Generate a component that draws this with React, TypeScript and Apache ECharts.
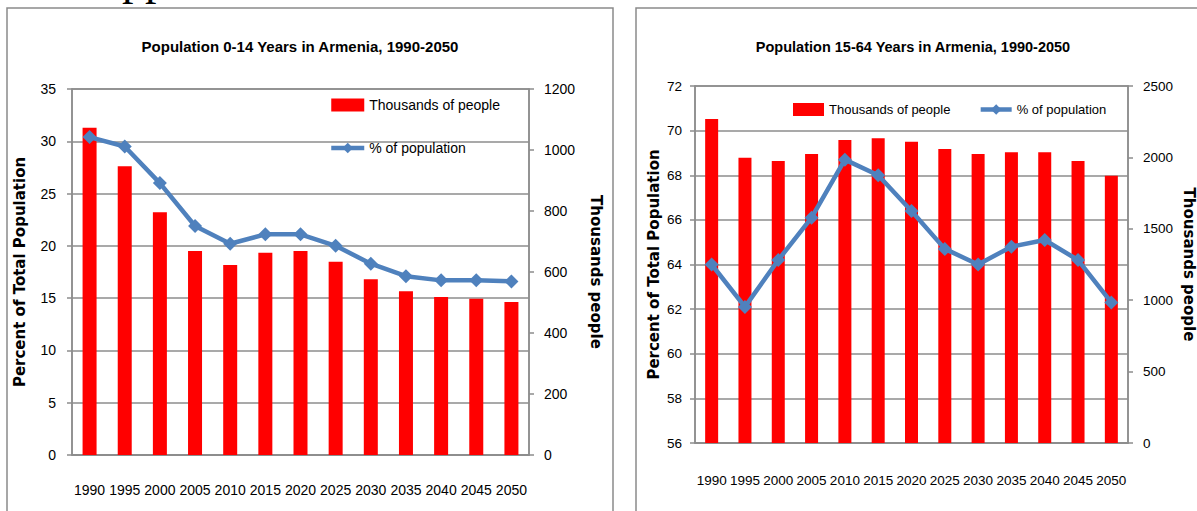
import React, { useEffect, useRef } from "react";
import * as echarts from "echarts";

const years = ["1990", "1995", "2000", "2005", "2010", "2015", "2020", "2025", "2030", "2035", "2040", "2045", "2050"];

// Population 0-14
const youngThousands = [1073, 947, 796, 669, 623, 663, 669, 634, 576, 537, 518, 512, 502];
const youngPct = [30.4, 29.5, 26.0, 21.9, 20.2, 21.1, 21.1, 20.0, 18.3, 17.1, 16.7, 16.7, 16.6];

// Population 15-64
const workingThousands = [2269, 1998, 1975, 2024, 2122, 2134, 2110, 2059, 2024, 2036, 2036, 1975, 1872];
const workingPct = [64.0, 62.1, 64.2, 66.1, 68.7, 68.0, 66.4, 64.7, 64.0, 64.8, 65.1, 64.2, 62.3];

const titles = [
  "Population 0-14 Years in Armenia, 1990-2050",
  "Population 15-64 Years in Armenia, 1990-2050",
];
const barName = "Thousands of people";
const lineName = "% of population";
const leftAxisName = "Percent of Total Population";
const rightAxisName = "Thousands people";

const NARROW = '"Liberation Sans", Arial, sans-serif';
const WIDE = '"DejaVu Sans", Verdana, sans-serif';
const GRID_C = "#8c8c8c";
const BLUE = "#4f81bd";
const RED = "#ff0000";

export default function App() {
  const ref = useRef<HTMLDivElement>(null);
  useEffect(() => {
    if (!ref.current) return;
    const chart = echarts.init(ref.current, null, { renderer: "svg" });
    const axisLine = { show: true, lineStyle: { color: GRID_C, width: 1.5 } };
    const tick = { show: true, length: 5, lineStyle: { color: GRID_C, width: 1.5 } };
    const nameStyle = { fontFamily: WIDE, fontWeight: "bold", fontSize: 15, color: "#000" };
    const plain = (v: number | string) => String(v);
    const mkX = (gi: number, fs: number, margin: number) => ({
      type: "category",
      gridIndex: gi,
      data: years,
      axisLine,
      axisTick: { show: false },
      axisLabel: { color: "#000", fontSize: fs, fontFamily: NARROW, margin, interval: 0 },
    });
    const mkY = (
      gi: number,
      pos: string,
      min: number,
      max: number,
      interval: number,
      name: string,
      nameGap: number,
      fs: number,
      margin: number,
      split: boolean
    ) => ({
      type: "value",
      gridIndex: gi,
      position: pos,
      min,
      max,
      interval,
      name,
      nameLocation: "middle",
      nameGap,
      nameRotate: pos === "right" ? -90 : 90,
      nameTextStyle: nameStyle,
      axisLine,
      axisTick: tick,
      axisLabel: { color: "#000", fontSize: fs, fontFamily: NARROW, margin, formatter: plain },
      splitLine: { show: split, lineStyle: { color: GRID_C, width: 1.5 } },
    });
    const legendData = [{ name: barName, icon: "rect" }, { name: lineName }];
    const option: any = {
      animation: false,
      backgroundColor: "#ffffff",
      textStyle: { fontFamily: NARROW },
      grid: [
        { left: 72, top: 89, width: 457, height: 366, show: true, borderColor: GRID_C, borderWidth: 1.5 },
        { left: 695, top: 86, width: 435, height: 357, show: true, borderColor: GRID_C, borderWidth: 1.5 },
      ],
      xAxis: [mkX(0, 14, 28), mkX(1, 13.5, 30)],
      yAxis: [
        mkY(0, "left", 0, 35, 5, leftAxisName, 45, 14, 16, true),
        mkY(0, "right", 0, 1200, 200, rightAxisName, 59, 14, 15, false),
        mkY(1, "left", 56, 72, 2, leftAxisName, 34, 13.5, 13, true),
        mkY(1, "right", 0, 2500, 500, rightAxisName, 53, 13.5, 15, false),
      ],
      legend: [
        {
          orient: "vertical",
          left: 329,
          top: 98,
          padding: 0,
          itemWidth: 33,
          itemHeight: 13,
          itemGap: 29,
          data: legendData,
          lineStyle: { width: 4.5, color: BLUE },
          textStyle: { fontSize: 14, color: "#000", fontFamily: NARROW },
        },
        {
          orient: "horizontal",
          left: 793,
          top: 103,
          padding: 0,
          itemWidth: 31,
          itemHeight: 13,
          itemGap: 28,
          data: legendData,
          lineStyle: { width: 4.5, color: BLUE },
          textStyle: { fontSize: 13, color: "#000", fontFamily: NARROW },
        },
      ],
      series: [
        {
          type: "bar",
          name: barName,
          xAxisIndex: 0,
          yAxisIndex: 1,
          data: youngThousands,
          barWidth: 14,
          itemStyle: { color: RED },
        },
        {
          type: "line",
          name: lineName,
          xAxisIndex: 0,
          yAxisIndex: 0,
          data: youngPct,
          symbol: "diamond",
          symbolSize: 14,
          lineStyle: { color: BLUE, width: 4.5 },
          itemStyle: { color: BLUE },
        },
        {
          type: "bar",
          name: barName,
          xAxisIndex: 1,
          yAxisIndex: 3,
          data: workingThousands,
          barWidth: 13,
          itemStyle: { color: RED },
        },
        {
          type: "line",
          name: lineName,
          xAxisIndex: 1,
          yAxisIndex: 2,
          data: workingPct,
          symbol: "diamond",
          symbolSize: 14,
          lineStyle: { color: BLUE, width: 4.5 },
          itemStyle: { color: BLUE },
        },
      ],
      graphic: [
        {
          type: "rect",
          shape: { x: 7, y: 8, width: 606, height: 600 },
          style: { fill: "none", stroke: "#8a8a8a", lineWidth: 1.5 },
        },
        {
          type: "rect",
          shape: { x: 636, y: 8, width: 700, height: 600 },
          style: { fill: "none", stroke: "#8a8a8a", lineWidth: 1.5 },
        },
        {
          type: "text",
          x: 300,
          y: 46,
          style: {
            text: titles[0],
            fontFamily: NARROW,
            fontWeight: "bold",
            fontSize: 15,
            fill: "#000",
            textAlign: "center",
            textVerticalAlign: "middle",
          },
        },
        {
          type: "text",
          x: 913,
          y: 47,
          style: {
            text: titles[1],
            fontFamily: NARROW,
            fontWeight: "bold",
            fontSize: 14.5,
            fill: "#000",
            textAlign: "center",
            textVerticalAlign: "middle",
          },
        },
        {
          type: "text",
          x: 122,
          y: -22,
          style: {
            text: "pp",
            fontFamily: '"Liberation Serif", "DejaVu Serif", serif',
            fontSize: 46,
            fill: "#000",
            textAlign: "left",
            textVerticalAlign: "middle",
          },
        },
      ],
    };
    chart.setOption(option);
    return () => chart.dispose();
  }, []);
  return (
    <div
      ref={ref}
      style={{ position: "absolute", left: 0, top: 0, width: 1197, height: 511 }}
    />
  );
}
